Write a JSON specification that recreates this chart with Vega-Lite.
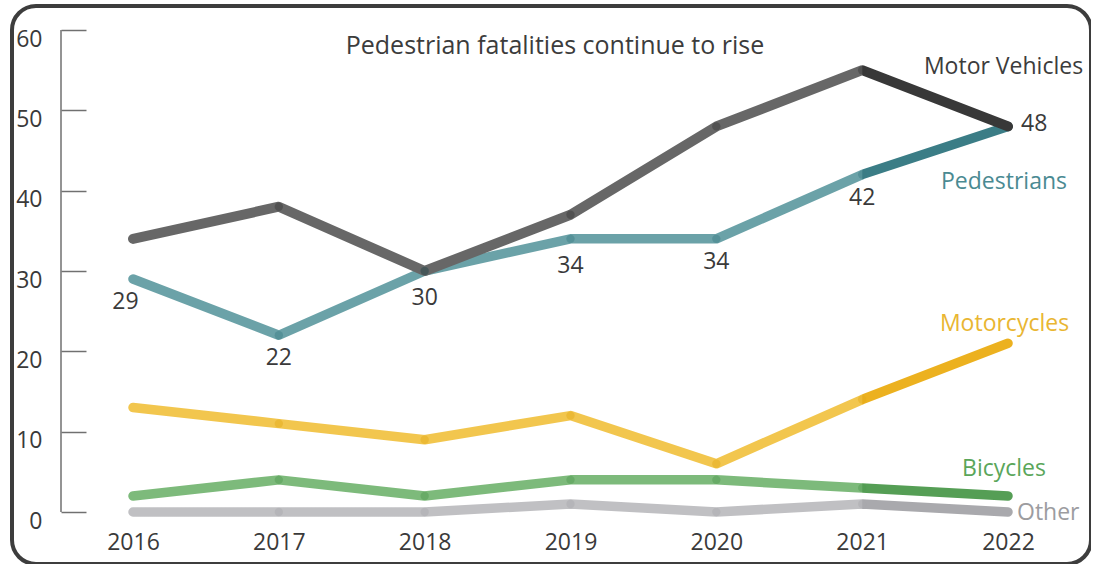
{
  "$schema": "https://vega.github.io/schema/vega-lite/v6.json",
  "width": 1079,
  "height": 558,
  "autosize": {"type": "none"},
  "padding": {"left": 12, "top": 6, "right": 0, "bottom": 0},
  "background": "white",
  "config": {
    "view": {"stroke": "#3d3d3d", "strokeWidth": 4, "cornerRadius": 24},
    "font": "Open Sans",
    "text": {"font": "Open Sans", "fontSize": 23}
  },
  "title": {
    "text": "Pedestrian fatalities continue to rise",
    "fontSize": 25,
    "fontWeight": "normal",
    "font": "Open Sans",
    "color": "#3c3c3c",
    "anchor": "middle",
    "frame": "group",
    "offset": -53,
    "dx": 3.5
  },
  "data": {
    "values": [
      {"mode": "Other", "year": 2016, "value": 0},
      {"mode": "Other", "year": 2017, "value": 0},
      {"mode": "Other", "year": 2018, "value": 0},
      {"mode": "Other", "year": 2019, "value": 1},
      {"mode": "Other", "year": 2020, "value": 0},
      {"mode": "Other", "year": 2021, "value": 1},
      {"mode": "Other", "year": 2022, "value": 0},
      {"mode": "Bicycles", "year": 2016, "value": 2},
      {"mode": "Bicycles", "year": 2017, "value": 4},
      {"mode": "Bicycles", "year": 2018, "value": 2},
      {"mode": "Bicycles", "year": 2019, "value": 4},
      {"mode": "Bicycles", "year": 2020, "value": 4},
      {"mode": "Bicycles", "year": 2021, "value": 3},
      {"mode": "Bicycles", "year": 2022, "value": 2},
      {"mode": "Motorcycles", "year": 2016, "value": 13},
      {"mode": "Motorcycles", "year": 2017, "value": 11},
      {"mode": "Motorcycles", "year": 2018, "value": 9},
      {"mode": "Motorcycles", "year": 2019, "value": 12},
      {"mode": "Motorcycles", "year": 2020, "value": 6},
      {"mode": "Motorcycles", "year": 2021, "value": 14},
      {"mode": "Motorcycles", "year": 2022, "value": 21},
      {"mode": "Pedestrians", "year": 2016, "value": 29},
      {"mode": "Pedestrians", "year": 2017, "value": 22},
      {"mode": "Pedestrians", "year": 2018, "value": 30},
      {"mode": "Pedestrians", "year": 2019, "value": 34},
      {"mode": "Pedestrians", "year": 2020, "value": 34},
      {"mode": "Pedestrians", "year": 2021, "value": 42},
      {"mode": "Pedestrians", "year": 2022, "value": 48},
      {"mode": "Motor Vehicles", "year": 2016, "value": 34},
      {"mode": "Motor Vehicles", "year": 2017, "value": 38},
      {"mode": "Motor Vehicles", "year": 2018, "value": 30},
      {"mode": "Motor Vehicles", "year": 2019, "value": 37},
      {"mode": "Motor Vehicles", "year": 2020, "value": 48},
      {"mode": "Motor Vehicles", "year": 2021, "value": 55},
      {"mode": "Motor Vehicles", "year": 2022, "value": 48}
    ]
  },
  "encoding": {
    "x": {
      "field": "year",
      "type": "quantitative",
      "scale": {"domain": [2015.1703, 2022.5691], "nice": false, "zero": false},
      "axis": {
        "orient": "bottom",
        "offset": -52,
        "domain": false,
        "ticks": false,
        "grid": false,
        "values": [2016, 2017, 2018, 2019, 2020, 2021, 2022],
        "format": "d",
        "labelFont": "Open Sans",
        "labelFontSize": 23,
        "labelColor": "#3a3a3a",
        "labelPadding": 19,
        "labelFlush": false,
        "labelOverlap": false,
        "title": null
      }
    },
    "y": {
      "field": "value",
      "type": "quantitative",
      "scale": {"domain": [-6.473, 62.988], "nice": false, "zero": false},
      "axis": {
        "orient": "left",
        "offset": -49,
        "domain": false,
        "ticks": true,
        "tickSize": -25,
        "tickColor": "#707070",
        "tickWidth": 1.5,
        "grid": false,
        "values": [0, 10, 20, 30, 40, 50, 60],
        "labelFont": "Open Sans",
        "labelFontSize": 23,
        "labelColor": "#3a3a3a",
        "labelPadding": 44,
        "labelAlign": "right",
        "labelBaseline": "top",
        "labelOffset": -2,
        "labelFlush": false,
        "labelOverlap": false,
        "title": null
      }
    }
  },
  "layer": [
    {
      "transform": [{"filter": "datum.mode === 'Other' && datum.year === 2016"}],
      "mark": {"type": "rule", "stroke": "#707070", "strokeWidth": 1.5},
      "encoding": {
        "x": {"datum": 2015.5063},
        "y2": {"datum": 60}
      }
    },
    {
      "transform": [{"filter": "datum.mode === 'Other'"}],
      "mark": {
        "type": "line", "strokeWidth": 9.5, "strokeCap": "round", "strokeJoin": "round",
        "stroke": {"gradient": "linear", "x1": 0, "y1": 0, "x2": 1, "y2": 0,
          "stops": [{"offset": 0, "color": "#c0c0c3"}, {"offset": 0.833, "color": "#c0c0c3"}, {"offset": 0.834, "color": "#a9a9ad"}, {"offset": 1, "color": "#a9a9ad"}]}
      }
    },
    {
      "transform": [{"filter": "datum.mode === 'Bicycles'"}],
      "mark": {
        "type": "line", "strokeWidth": 9.5, "strokeCap": "round", "strokeJoin": "round",
        "stroke": {"gradient": "linear", "x1": 0, "y1": 0, "x2": 1, "y2": 0,
          "stops": [{"offset": 0, "color": "#7dba7b"}, {"offset": 0.833, "color": "#7dba7b"}, {"offset": 0.834, "color": "#559e55"}, {"offset": 1, "color": "#559e55"}]}
      }
    },
    {
      "transform": [{"filter": "datum.mode === 'Motorcycles'"}],
      "mark": {
        "type": "line", "strokeWidth": 9.5, "strokeCap": "round", "strokeJoin": "round",
        "stroke": {"gradient": "linear", "x1": 0, "y1": 0, "x2": 1, "y2": 0,
          "stops": [{"offset": 0, "color": "#f2c64e"}, {"offset": 0.833, "color": "#f2c64e"}, {"offset": 0.834, "color": "#ecb11f"}, {"offset": 1, "color": "#ecb11f"}]}
      }
    },
    {
      "transform": [{"filter": "datum.mode === 'Pedestrians'"}],
      "mark": {
        "type": "line", "strokeWidth": 9.5, "strokeCap": "round", "strokeJoin": "round",
        "stroke": {"gradient": "linear", "x1": 0, "y1": 0, "x2": 1, "y2": 0,
          "stops": [{"offset": 0, "color": "#6ba2a8"}, {"offset": 0.833, "color": "#6ba2a8"}, {"offset": 0.834, "color": "#3b7d86"}, {"offset": 1, "color": "#3b7d86"}]}
      }
    },
    {
      "transform": [{"filter": "datum.mode === 'Motor Vehicles'"}],
      "mark": {
        "type": "line", "strokeWidth": 10, "strokeCap": "round", "strokeJoin": "round",
        "stroke": {"gradient": "linear", "x1": 0, "y1": 0, "x2": 1, "y2": 0,
          "stops": [{"offset": 0, "color": "#676767"}, {"offset": 0.833, "color": "#676767"}, {"offset": 0.834, "color": "#383838"}, {"offset": 1, "color": "#383838"}]}
      }
    },
    {
      "transform": [{"filter": "datum.year > 2016 && datum.year < 2022"}],
      "mark": {"type": "point", "filled": true, "size": 70, "opacity": 0.45, "strokeWidth": 0},
      "encoding": {
        "color": {
          "field": "mode", "type": "nominal", "legend": null,
          "scale": {
            "domain": ["Other", "Bicycles", "Motorcycles", "Pedestrians", "Motor Vehicles"],
            "range": ["#a8a8ac", "#4f9a4f", "#e2a818", "#3b7d86", "#383838"]
          }
        }
      }
    },
    {
      "transform": [{"filter": "datum.mode === 'Pedestrians' && datum.year === 2016"}],
      "mark": {"type": "text", "align": "center", "baseline": "alphabetic", "dx": -7.5, "dy": 30, "color": "#3a3a3a"},
      "encoding": {"text": {"field": "value"}}
    },
    {
      "transform": [{"filter": "datum.mode === 'Pedestrians' && (datum.year === 2017 || datum.year === 2020 || datum.year === 2021)"}],
      "mark": {"type": "text", "align": "center", "baseline": "alphabetic", "dy": 30, "color": "#3a3a3a"},
      "encoding": {"text": {"field": "value"}}
    },
    {
      "transform": [{"filter": "datum.mode === 'Pedestrians' && (datum.year === 2018 || datum.year === 2019)"}],
      "mark": {"type": "text", "align": "center", "baseline": "alphabetic", "dy": 34, "color": "#3a3a3a"},
      "encoding": {"text": {"field": "value"}}
    },
    {
      "transform": [{"filter": "datum.mode === 'Motor Vehicles' && datum.year === 2022"}],
      "mark": {"type": "text", "align": "left", "baseline": "alphabetic", "dx": 13, "dy": 5, "color": "#3a3a3a"},
      "encoding": {"text": {"field": "value"}}
    },
    {
      "transform": [{"filter": "datum.mode === 'Motor Vehicles' && datum.year === 2022"}],
      "mark": {"type": "text", "align": "center", "baseline": "alphabetic", "dx": -4.5, "dy": -52, "color": "#3c3c3c"},
      "encoding": {"text": {"field": "mode"}}
    },
    {
      "transform": [{"filter": "datum.mode === 'Pedestrians' && datum.year === 2022"}],
      "mark": {"type": "text", "align": "center", "baseline": "alphabetic", "dx": -4, "dy": 63, "color": "#4a8a92"},
      "encoding": {"text": {"field": "mode"}}
    },
    {
      "transform": [{"filter": "datum.mode === 'Motorcycles' && datum.year === 2022"}],
      "mark": {"type": "text", "align": "center", "baseline": "alphabetic", "dx": -3.5, "dy": -12, "color": "#e9b632"},
      "encoding": {"text": {"field": "mode"}}
    },
    {
      "transform": [{"filter": "datum.mode === 'Bicycles' && datum.year === 2022"}],
      "mark": {"type": "text", "align": "center", "baseline": "alphabetic", "dx": -4, "dy": -20, "color": "#5aa65a"},
      "encoding": {"text": {"field": "mode"}}
    },
    {
      "transform": [{"filter": "datum.mode === 'Other' && datum.year === 2022"}],
      "mark": {"type": "text", "align": "left", "baseline": "alphabetic", "dx": 9, "dy": 8, "color": "#9c9ca0"},
      "encoding": {"text": {"field": "mode"}}
    }
  ]
}
